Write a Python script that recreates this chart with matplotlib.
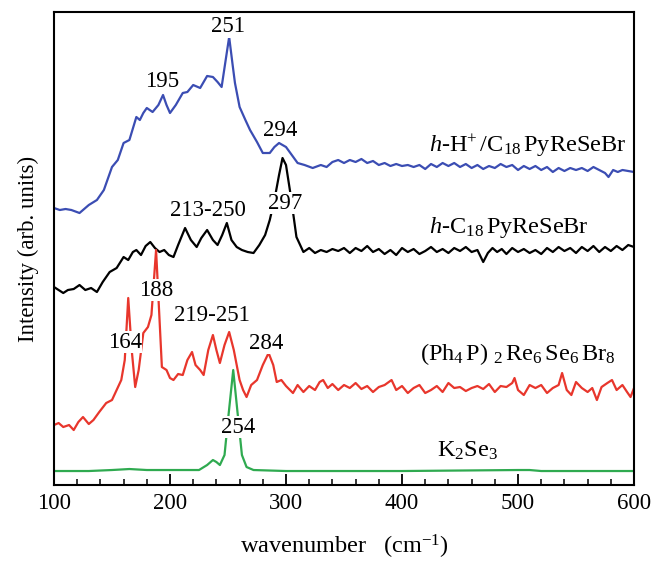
import matplotlib
matplotlib.use("Agg")
import matplotlib.pyplot as plt
from matplotlib.ticker import MultipleLocator

plt.rcParams['font.family'] = ['Liberation Serif', 'DejaVu Serif']
plt.rcParams['mathtext.fontset'] = 'custom'
plt.rcParams['mathtext.rm'] = 'Liberation Serif'
plt.rcParams['mathtext.it'] = 'Liberation Serif:italic'

# ---- data (intensity in arbitrary units, offset stacked) ----
blue_wn = [100, 105, 110, 115, 122, 130, 137, 143, 150, 155, 160, 165, 171, 174, 177, 180, 185, 190, 194, 197,
           200, 205, 211, 215, 220, 226, 232, 237, 241, 244.5, 248, 251, 254, 256, 260, 265, 269, 275, 280, 286,
           290, 294, 300, 305, 310, 316, 323, 330, 335, 340, 345, 350, 355, 360, 365, 370, 375, 380, 385, 390,
           395, 400, 405, 410, 415, 420, 425, 430, 435, 440, 445, 450, 455, 460, 465, 470, 475, 480, 485, 490,
           495, 500, 505, 510, 515, 520, 525, 530, 535, 540, 545, 550, 555, 560, 565, 570, 575, 578, 582, 586,
           590, 595, 600]
blue_py = [208, 210, 209, 210, 213, 205, 200, 190, 167, 160, 143, 140, 117, 120, 113, 108, 112, 105, 95, 105,
           113, 105, 93, 92, 85, 88, 76, 77, 82, 87, 60, 37, 65, 83, 107, 120, 130, 142, 153, 153,
           147, 143, 147, 155, 163, 165, 168, 165, 167, 162, 160, 163, 160, 162, 159, 163, 161, 165, 163, 166,
           164, 166, 165, 167, 165, 169, 164, 167, 163, 166, 163, 167, 164, 168, 165, 169, 166, 168, 164, 167,
           165, 170, 166, 169, 166, 170, 167, 172, 168, 171, 168, 170, 168, 171, 167, 170, 173, 177, 170, 172,
           170, 171, 172]

black_wn = [100, 104, 108, 112, 117, 122, 127, 132, 137, 142, 148, 154, 160, 164, 168, 171, 175, 179, 183, 187,
            191, 195, 199, 203, 207, 213, 218, 223, 227, 232, 237, 241, 245, 249, 253, 257.5, 262, 267, 272, 277,
            282, 286, 290, 294, 297, 300, 304, 309, 315, 320, 325, 330, 335, 340, 345, 350, 355, 360, 365, 370,
            375, 380, 385, 390, 395, 400, 405, 410, 415, 420, 425, 430, 435, 440, 445, 450, 455, 460, 465, 470,
            474, 478, 482, 486, 490, 495, 500, 505, 510, 515, 520, 525, 530, 535, 540, 545, 550, 555, 560, 565,
            570, 575, 580, 585, 590, 595, 600]
black_py = [287, 290, 293, 290, 289, 285, 290, 288, 292, 282, 272, 268, 257, 260, 252, 250, 255, 246, 242, 248,
            252, 250, 255, 257, 245, 228, 240, 247, 238, 230, 240, 245, 235, 223, 240, 247, 250, 252, 253, 245,
            235, 220, 200, 175, 158, 165, 195, 237, 252, 248, 253, 250, 252, 249, 251, 248, 253, 248, 251, 246,
            252, 249, 254, 250, 255, 248, 252, 249, 254, 251, 247, 252, 249, 253, 248, 251, 247, 252, 250, 262,
            253, 248, 252, 249, 254, 248, 252, 249, 253, 250, 254, 248, 252, 247, 251, 248, 253, 247, 251, 246,
            252, 247, 251, 246, 250, 245, 247]

red_wn = [100, 104, 108, 113, 117, 121, 125, 130, 134, 139, 145, 150, 154, 158, 161, 164, 167, 170, 173, 177,
          181, 184, 188, 191, 193, 197, 200, 203, 207, 211, 215, 219, 222, 226, 229, 233, 237, 240, 243, 247,
          251, 255, 260, 263, 266, 270, 275, 280, 285, 289, 292, 296, 300, 306, 310, 315, 320, 325, 329, 332,
          336, 340, 345, 350, 355, 360, 365, 370, 375, 380, 385, 391, 395, 400, 405, 410, 415, 420, 425, 430,
          435, 440, 445, 450, 455, 460, 465, 470, 475, 480, 485, 490, 495, 497, 500, 505, 510, 515, 520, 525,
          530, 535, 538, 542, 546, 550, 555, 560, 564, 568, 572, 577, 581, 585, 590, 594, 597, 600]
red_py = [425, 423, 427, 425, 430, 422, 417, 424, 420, 412, 403, 400, 390, 380, 360, 298, 350, 387, 370, 333,
          327, 315, 250, 320, 367, 370, 378, 380, 374, 375, 360, 352, 365, 370, 375, 350, 335, 350, 363, 345,
          332, 350, 380, 390, 397, 385, 380, 365, 353, 365, 382, 380, 386, 393, 385, 392, 386, 390, 382, 380,
          388, 384, 390, 385, 388, 383, 389, 386, 392, 387, 385, 380, 390, 386, 393, 388, 385, 393, 390, 386,
          392, 383, 388, 387, 391, 388, 386, 389, 384, 392, 386, 387, 383, 378, 390, 395, 385, 388, 385, 393,
          388, 385, 373, 390, 395, 382, 388, 392, 388, 400, 387, 383, 380, 390, 385, 392, 397, 388]

green_wn = [100, 130, 150, 165, 180, 200, 225, 232, 237, 240, 243, 247, 250, 254.5, 258, 262, 266, 272, 300,
            400, 500, 510, 520, 600]
green_py = [471, 471, 470, 469, 470, 470, 470, 465, 460, 462, 465, 455, 420, 370, 410, 455, 467, 470, 471,
            471, 470, 470, 471, 471]

# intensity: baseline-referenced arbitrary units
REF = 485
blue_I = [REF - v for v in blue_py]
black_I = [REF - v for v in black_py]
red_I = [REF - v for v in red_py]
green_I = [REF - v for v in green_py]

peak_labels = [("251", 250, 458), ("195", 193, 403), ("294", 295, 355),
               ("213-250", 233, 275), ("297", 299, 282),
               ("188", 188.5, 195), ("164", 161, 143), ("219-251", 236, 170), ("284", 283, 142),
               ("254", 258.5, 58)]
name_labels = [(r"$h$-H$^{+}\,$/C$_{18}\,$PyReSeBr", 593, 333, 'right'),
               (r"$h$-C$_{18}\,$PyReSeBr", 561, 252, 'right'),
               (r"(Ph$_4\,$P) $_2\,$Re$_6\,$Se$_6\,$Br$_8$", 584, 125, 'right'),
               (r"K$_2$Se$_3$", 430, 28, 'left')]

fig = plt.figure(figsize=(6.56, 5.63), dpi=100)
ax = fig.add_axes([0.0823, 0.1385, 0.8842, 0.8402])

ax.plot(blue_wn, blue_I, color='#3b4db3', lw=1.6, zorder=2)
ax.plot(black_wn, black_I, color='black', lw=1.6, zorder=2)
ax.plot(red_wn, red_I, color='#e8362c', lw=1.6, zorder=2)
ax.plot(green_wn, green_I, color='#2faa50', lw=1.6, zorder=2)

for txt, x, y in peak_labels:
    ax.text(x, y, txt, ha='center', va='center', fontsize=16.5, zorder=3,
            bbox=dict(facecolor='white', edgecolor='none', pad=0.3))
for txt, x, y, ha in name_labels:
    ax.text(x, y, txt, ha=ha, va='baseline', fontsize=17.5, zorder=3)

ax.set_xlim(100, 600)
ax.set_ylim(0, 473)
ax.set_yticks([])
ax.xaxis.set_major_locator(MultipleLocator(100))
ax.xaxis.set_minor_locator(MultipleLocator(20))
ax.tick_params(axis='x', which='major', direction='in', length=8, width=1.3, labelsize=16.5, pad=6, top=False)
ax.tick_params(axis='x', which='minor', direction='in', length=4, width=1.1, top=False)
for s in ax.spines.values():
    s.set_linewidth(1.5)

ax.set_xlabel(r"wavenumber   (cm$^{-1}$)", fontsize=17.5, labelpad=13)
ax.set_ylabel("Intensity (arb. units)", fontsize=16.5, labelpad=11)

fig.savefig("out.png", dpi=100)
